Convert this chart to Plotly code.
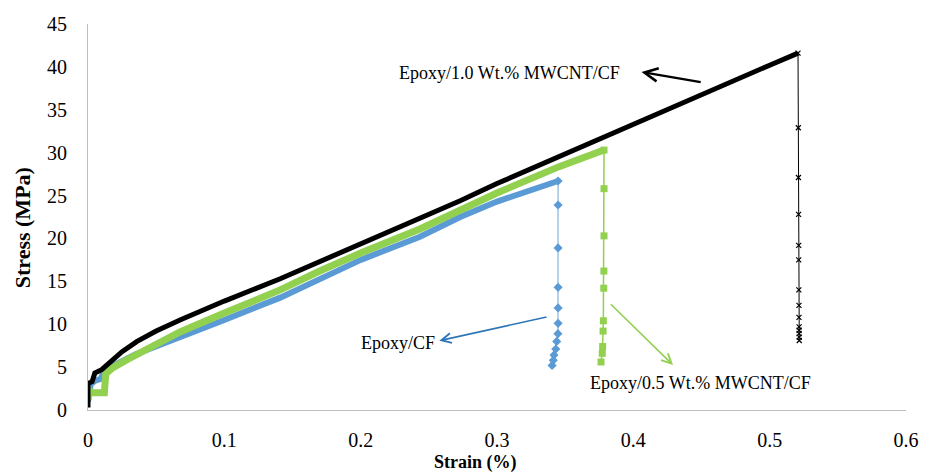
import plotly.graph_objects as go

# ---- data ----
# Epoxy/CF (blue)
cf_rise_strain = [0, 0.002, 0.005, 0.009, 0.012, 0.020, 0.035, 0.050, 0.0675, 0.100, 0.141, 0.170, 0.200, 0.2435, 0.273, 0.300, 0.3448]
cf_rise_stress = [1.0, 3.0, 3.4, 3.6, 4.5, 5.3, 6.5, 7.4, 8.5, 10.5, 13.1, 15.3, 17.5, 20.2, 22.5, 24.3, 26.7]
cf_drop_strain = [0.3448, 0.3448, 0.3448, 0.3448, 0.3448, 0.3448, 0.3447, 0.3438, 0.3431, 0.3418, 0.3413, 0.3404]
cf_drop_stress = [26.7, 23.9, 18.9, 14.3, 11.9, 10.1, 8.9, 8.0, 7.1, 6.4, 5.8, 5.2]

# Epoxy/0.5 Wt.% MWCNT/CF (green)
m05_rise_strain = [0, 0, 0.003, 0.008, 0.012, 0.013, 0.018, 0.029, 0.040, 0.053, 0.0675, 0.100, 0.141, 0.170, 0.200, 0.2435, 0.273, 0.300, 0.346, 0.3785]
m05_rise_stress = [1.2, 2.4, 2.0, 2.0, 2.0, 4.2, 4.9, 5.9, 6.8, 7.9, 9.1, 11.3, 14.0, 16.2, 18.3, 21.1, 23.3, 25.3, 28.4, 30.3]
m05_drop_strain = [0.3785, 0.3785, 0.3785, 0.3784, 0.3783, 0.3780, 0.3778, 0.3775, 0.3772, 0.3763]
m05_drop_stress = [30.3, 25.8, 20.3, 16.2, 14.2, 10.4, 9.2, 7.4, 6.6, 5.6]

# Epoxy/1.0 Wt.% MWCNT/CF (black)
m10_rise_strain = [0, 0, 0, 0.003, 0.005, 0.010, 0.016, 0.025, 0.036, 0.050, 0.0675, 0.100, 0.141, 0.170, 0.200, 0.2435, 0.273, 0.300, 0.346, 0.3756, 0.400, 0.449, 0.500, 0.5208]
m10_rise_stress = [0.3, 1.5, 3.1, 3.3, 4.3, 4.7, 5.6, 6.8, 8.0, 9.2, 10.5, 12.7, 15.3, 17.3, 19.4, 22.3, 24.4, 26.4, 29.6, 31.7, 33.4, 36.8, 40.2, 41.6]
m10_drop_strain = [0.5208, 0.5210, 0.5211, 0.5212, 0.5213, 0.5213, 0.5214, 0.5215, 0.5215, 0.5216, 0.5216, 0.5216, 0.5217, 0.5217]
m10_drop_stress = [41.6, 32.9, 27.1, 22.8, 19.2, 17.5, 14.0, 12.2, 10.8, 9.7, 9.3, 8.9, 8.5, 8.1]

x_ticks = [0, 0.1, 0.2, 0.3, 0.4, 0.5, 0.6]
y_ticks = [0, 5, 10, 15, 20, 25, 30, 35, 40, 45]

BLUE = "#5B9BD5"
BLUE_LIGHT = "#9DC3E6"
GREEN = "#92D050"
BLACK = "#000000"
FONT = "Liberation Serif"

fig = go.Figure()

# blue
fig.add_trace(go.Scatter(x=cf_rise_strain, y=cf_rise_stress, mode="lines",
                         line=dict(color=BLUE, width=6), showlegend=False))
fig.add_trace(go.Scatter(x=cf_drop_strain, y=cf_drop_stress, mode="lines+markers",
                         line=dict(color=BLUE_LIGHT, width=1.5),
                         marker=dict(symbol="diamond", size=7, color=BLUE), showlegend=False))
# green
fig.add_trace(go.Scatter(x=m05_rise_strain, y=m05_rise_stress, mode="lines",
                         line=dict(color=GREEN, width=7), showlegend=False))
fig.add_trace(go.Scatter(x=m05_drop_strain, y=m05_drop_stress, mode="lines+markers",
                         line=dict(color=GREEN, width=1.5),
                         marker=dict(symbol="square", size=7, color=GREEN), showlegend=False))
# black
fig.add_trace(go.Scatter(x=m10_rise_strain, y=m10_rise_stress, mode="lines",
                         line=dict(color=BLACK, width=5), showlegend=False))
fig.add_trace(go.Scatter(x=m10_drop_strain, y=m10_drop_stress, mode="lines+markers",
                         line=dict(color=BLACK, width=1),
                         marker=dict(symbol="x-thin", size=5, color=BLACK,
                                     line=dict(color=BLACK, width=1.2)), showlegend=False))

# labels
labels = [
    dict(x=0.3088, y=39.3, text="Epoxy/1.0 Wt.% MWCNT/CF"),
    dict(x=0.2276, y=7.77, text="Epoxy/CF"),
    dict(x=0.4489, y=3.15, text="Epoxy/0.5 Wt.% MWCNT/CF"),
]
for lb in labels:
    fig.add_annotation(x=lb["x"], y=lb["y"], text=lb["text"], showarrow=False,
                       font=dict(family=FONT, size=18, color="black"),
                       xanchor="center", yanchor="middle")

# arrows (head x,y ; tail ax,ay)
arrows = [
    dict(x=0.4060, y=39.4, ax=0.4505, ay=38.2, color=BLACK, width=2.2),
    dict(x=0.2577, y=8.08, ax=0.3374, ay=10.88, color="#2E75B6", width=1.6),
    dict(x=0.4291, y=5.24, ax=0.3824, ay=12.5, color=GREEN, width=1.6),
]
for a in arrows:
    fig.add_annotation(x=a["x"], y=a["y"], ax=a["ax"], ay=a["ay"], xref="x", yref="y",
                       axref="x", ayref="y", text="", showarrow=True,
                       arrowhead=5, arrowsize=1.2, arrowwidth=a["width"],
                       arrowcolor=a["color"])

# axis titles
fig.add_annotation(x=0.284, xref="x", y=-0.137, yref="paper", text="<b>Strain (%)</b>",
                   showarrow=False, font=dict(family=FONT, size=18, color="black"),
                   xanchor="center", yanchor="middle")
fig.add_annotation(x=-0.0807, xref="paper", y=21.3, yref="y", text="<b>Stress (MPa)</b>",
                   textangle=-90, showarrow=False, font=dict(family=FONT, size=22, color="black"),
                   xanchor="center", yanchor="middle")

fig.update_layout(
    width=931, height=474,
    margin=dict(l=88, r=25, t=24, b=64),
    paper_bgcolor="white", plot_bgcolor="white",
    font=dict(family=FONT, size=20, color="black"),
    showlegend=False,
)
fig.update_xaxes(range=[0, 0.6], tickvals=x_ticks, ticktext=[str(v) for v in x_ticks],
                 showgrid=False, zeroline=False, showline=True, linecolor="#BFBFBF", linewidth=1,
                 ticks="", ticklabelstandoff=12, automargin=False,
                 tickfont=dict(family=FONT, size=20))
fig.update_yaxes(range=[0, 45], tickvals=y_ticks, ticktext=[str(v) for v in y_ticks],
                 showgrid=False, zeroline=False, showline=True, linecolor="#BFBFBF", linewidth=1,
                 ticks="", ticklabelstandoff=16, automargin=False,
                 tickfont=dict(family=FONT, size=20))

fig.write_html("out.html",
               config={"displayModeBar": False},
               post_script="document.body.style.margin='0';document.body.style.padding='0';"
                           "document.body.style.overflow='hidden';")
